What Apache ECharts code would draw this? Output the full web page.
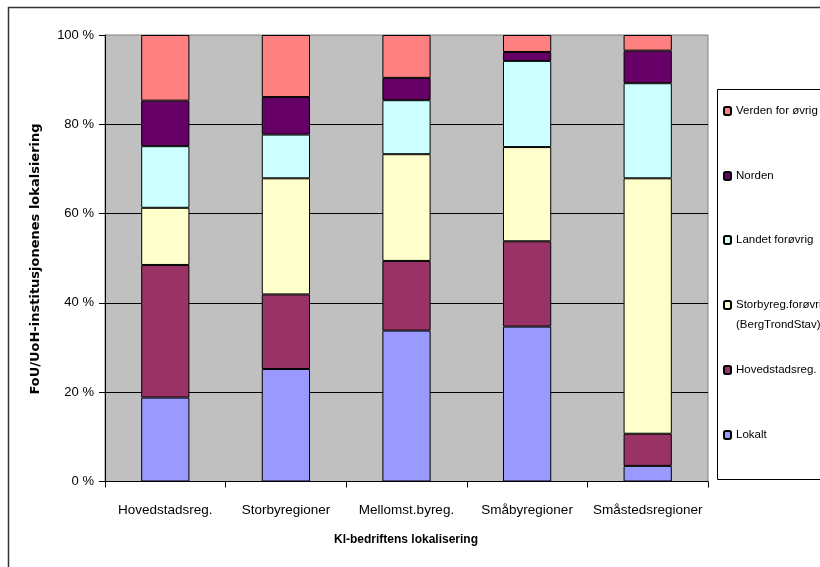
<!DOCTYPE html>
<html>
<head>
<meta charset="utf-8">
<script src="https://cdn.jsdelivr.net/npm/echarts@6/dist/echarts.min.js"></script>
<style>
  html, body { margin: 0; padding: 0; background: #fff; }
  #chart { width: 820px; height: 567px; }
</style>
</head>
<body>
<div id="chart"></div>
<script>
// Company regions (x categories)
const categories = ['Hovedstadsreg.', 'Storbyregioner', 'Mellomst.byreg.', 'Småbyregioner', 'Småstedsregioner'];

// Share (%) of R&D / university partners by their location, per company region
const lokalt        = [18.8, 25.2, 33.8, 34.7, 3.5];
const hovedstadsreg = [29.7, 16.7, 15.6, 19.1, 7.2];
const storbyreg     = [12.8, 26.0, 23.9, 21.1, 57.2];
const landet        = [13.8, 9.8, 12.1, 19.3, 21.3];
const norden        = [10.2, 8.4, 5.0, 2.0, 7.3];
const verden        = [14.7, 13.9, 9.6, 3.8, 3.5];

const yTicks = [0, 20, 40, 60, 80, 100];

const seriesNames = ['Lokalt', 'Hovedstadsreg.', 'Storbyreg.forøvrig (BergTrondStav)', 'Landet forøvrig', 'Norden', 'Verden for øvrig'];
const seriesData = [lokalt, hovedstadsreg, storbyreg, landet, norden, verden];
const seriesColors = ['#9999FF', '#993366', '#FFFFCC', '#CCFFFF', '#660066', '#FF8080'];

const FONT = "'Liberation Sans', Arial, sans-serif";

const chart = echarts.init(document.getElementById('chart'), null, { renderer: 'canvas' });

// One legend component per entry so each row sits at its own height
const LH = 20;
const legendCenters = [111, 176, 240, 305, 370, 435];
const legendOrder = seriesNames.slice().reverse();
const legends = legendOrder.map((name, i) => {
  const twoLine = name.indexOf('(') > 0;
  return {
    show: true,
    orient: 'vertical',
    left: 723,
    // a leading blank line keeps the marker level with the first text line
    top: twoLine ? legendCenters[i] - 1.5 * LH : legendCenters[i] - LH / 2,
    padding: 0,
    itemWidth: 7,
    itemHeight: 8,
    itemGap: 0,
    selectedMode: false,
    data: [name],
    formatter: n => (n.indexOf(' (') > 0 ? '\n' + n.replace(' (', '\n(') : n),
    textStyle: { fontFamily: FONT, fontSize: 11.5, lineHeight: LH, color: '#000' }
  };
});

const option = {
  animation: false,
  backgroundColor: '#fff',
  grid: {
    left: 105, right: 112, top: 35, bottom: 85.5,
    show: true, backgroundColor: '#C0C0C0', borderColor: '#808080', borderWidth: 1,
    containLabel: false
  },
  legend: legends,
  xAxis: {
    type: 'category',
    data: categories,
    axisLine: { lineStyle: { color: '#000', width: 1 } },
    axisTick: { show: true, length: 6, lineStyle: { color: '#000' } },
    axisLabel: { fontFamily: FONT, fontSize: 13.5, color: '#000', margin: 22, interval: 0 }
  },
  yAxis: {
    type: 'value',
    min: yTicks[0], max: yTicks[yTicks.length - 1], interval: 20,
    axisLine: { show: true, lineStyle: { color: '#000', width: 1 } },
    axisTick: { show: true, length: 6, lineStyle: { color: '#000' } },
    axisLabel: { fontFamily: FONT, fontSize: 13, color: '#000', margin: 11, formatter: '{value} %' },
    splitLine: { show: true, showMaxLine: false, lineStyle: { color: '#000', width: 1 } }
  },
  series: seriesData.map((d, i) => ({
    name: seriesNames[i],
    type: 'bar',
    stack: 'andel',
    barWidth: '40%',
    data: d,
    itemStyle: { color: seriesColors[i], borderColor: '#000', borderWidth: 1 }
  })),
  graphic: [
    {
      type: 'rect', silent: true, z: -1,
      shape: { x: 8.5, y: 7.5, width: 900, height: 700 },
      style: { fill: null, stroke: '#333', lineWidth: 1.5 }
    },
    {
      type: 'rect', silent: true, z: -1,
      shape: { x: 717.5, y: 89.5, width: 200, height: 390 },
      style: { fill: '#fff', stroke: '#000', lineWidth: 1 }
    },
    {
      type: 'text', silent: true,
      x: 36, y: 259, rotation: Math.PI / 2,
      style: {
        text: 'FoU/UoH-institusjonenes lokalsiering',
        font: "bold 13px 'DejaVu Sans', sans-serif",
        fill: '#000', align: 'center', verticalAlign: 'middle'
      }
    },
    {
      type: 'text', silent: true,
      x: 406, y: 540,
      style: {
        text: 'Kl-bedriftens lokalisering',
        font: "bold 12px " + FONT,
        fill: '#000', align: 'center', verticalAlign: 'middle'
      }
    }
  ]
};

chart.setOption(option);
</script>
</body>
</html>
